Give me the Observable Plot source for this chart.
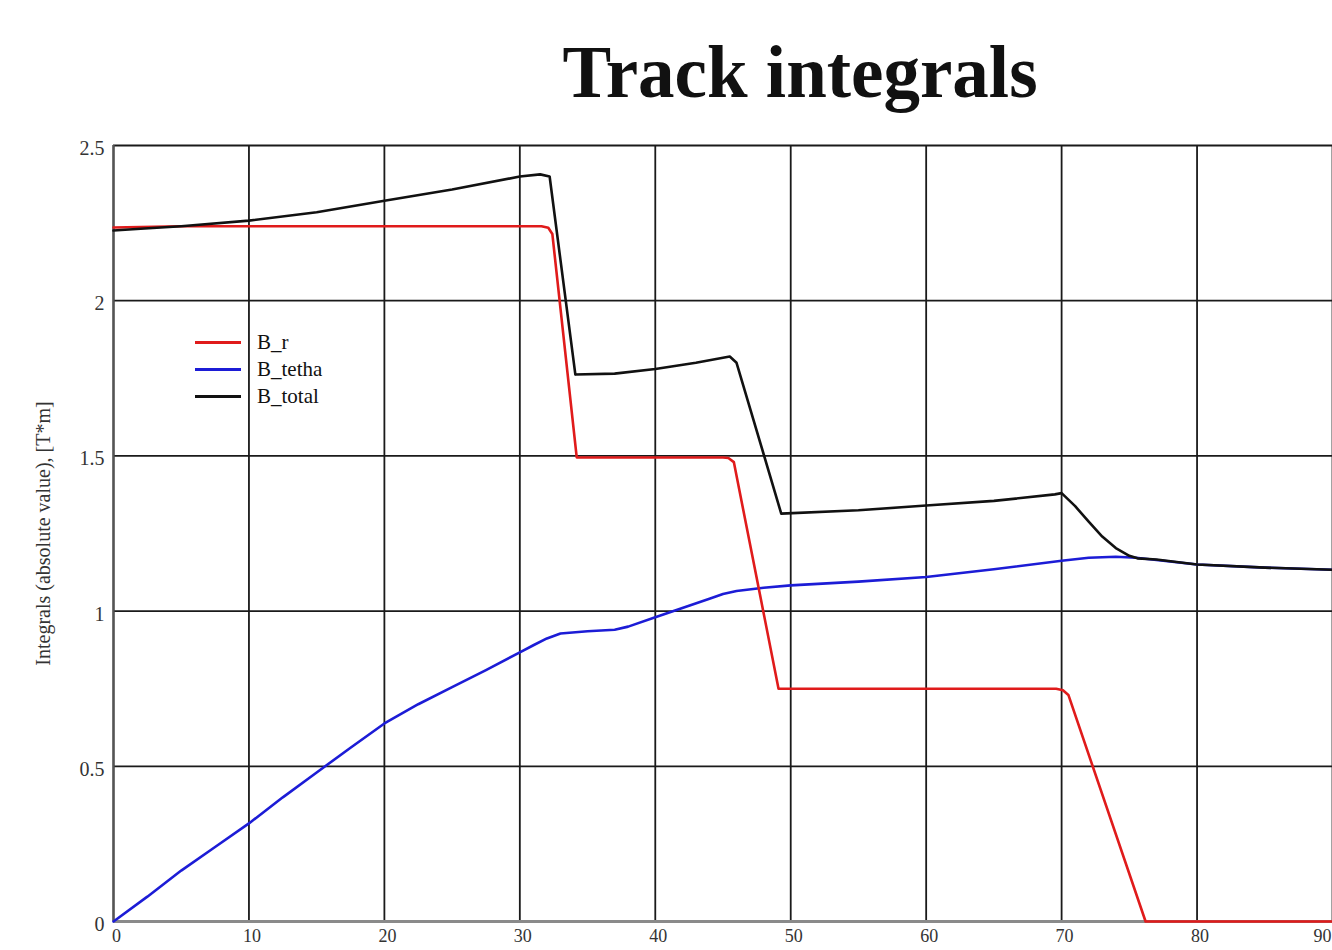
<!DOCTYPE html>
<html><head><meta charset="utf-8">
<script src="https://cdn.jsdelivr.net/npm/d3@7"></script>
<script src="https://cdn.jsdelivr.net/npm/@observablehq/plot@0.6"></script>
<style>
html,body{margin:0;padding:0;background:#fff;overflow:hidden}
#wrap{position:relative;width:1332px;height:950px;overflow:hidden}
#title{position:absolute;left:800px;top:37px;transform:translateX(-50%);font:bold 73px "Liberation Serif",serif;line-height:72px;white-space:nowrap;color:#111}
#chart{position:absolute;left:0;top:120px}
#legend{position:absolute;left:195px;top:329px;font:21px "Liberation Serif",serif;color:#111}
.row{display:flex;align-items:center;height:27px}
.sw{width:46px;height:3px;margin-right:16px}
</style></head>
<body><div id="wrap"><div id="title">Track integrals</div><div id="chart"></div><div id="legend"></div></div>
<script>
// ---- data ----
const seriesNames = ["B_r", "B_tetha", "B_total"];
const seriesColors = ["#e01b1b", "#1c1cd6", "#111111"];

const brX = [0, 5, 10, 20, 30, 31.6, 32.1, 32.4, 34.2, 40, 45, 45.4, 45.8, 49.1, 55, 60, 69.6, 70.1, 70.5, 76.2, 80, 90];
const brY = [2.236, 2.24, 2.24, 2.24, 2.24, 2.24, 2.235, 2.215, 1.495, 1.495, 1.495, 1.493, 1.48, 0.75, 0.75, 0.75, 0.75, 0.745, 0.73, 0, 0, 0];

const btX = [0, 2.5, 5, 7.5, 10, 12.5, 15, 17.5, 20, 22.5, 25, 27.5, 30, 31, 32, 33, 35, 37, 38, 40, 42, 44, 45, 46, 48, 50, 55, 60, 65, 70, 72, 74, 75.5, 80, 85, 90];
const btY = [0, 0.08, 0.164, 0.24, 0.316, 0.4, 0.48, 0.56, 0.638, 0.7, 0.755, 0.81, 0.867, 0.89, 0.912, 0.928, 0.935, 0.94, 0.95, 0.98, 1.01, 1.04, 1.055, 1.065, 1.075, 1.083, 1.095, 1.11, 1.135, 1.162, 1.172, 1.175, 1.172, 1.15, 1.14, 1.133];

const bsX = [0, 2, 5, 10, 15, 20, 25, 30, 31.5, 32.2, 34.1, 37, 40, 43, 45, 45.5, 46, 49.3, 55, 60, 65, 69.5, 70, 71, 72, 73, 74, 75, 75.6, 77, 80, 85, 90];
const bsY = [2.226, 2.232, 2.24, 2.258, 2.285, 2.322, 2.358, 2.4, 2.407, 2.4, 1.762, 1.765, 1.78, 1.8, 1.816, 1.82, 1.8, 1.314, 1.325, 1.34, 1.355, 1.376, 1.38, 1.338, 1.288, 1.24, 1.203, 1.178, 1.17, 1.166, 1.15, 1.14, 1.133];

const xTicks = [0, 10, 20, 30, 40, 50, 60, 70, 80, 90];
const yTicks = [0, 0.5, 1, 1.5, 2, 2.5];
const yTickLabels = ["0", "0.5", "1", "1.5", "2", "2.5"];
const yLabel = "Integrals (absolute value), [T*m]";

// ---- build table ----
const toRows = (name, xs, ys) => xs.map((x, i) => ({series: name, x, y: ys[i]}));
const rowsR = toRows(seriesNames[0], brX, brY);
const rowsT = toRows(seriesNames[1], btX, btY);
const rowsS = toRows(seriesNames[2], bsX, bsY);
const xTicksInner = xTicks.slice(0, -1);
const xTickLast = xTicks.slice(-1);

const chart = Plot.plot({
  width: 1332, height: 830,
  marginTop: 25, marginBottom: 29, marginLeft: 113, marginRight: 0,
  style: {fontFamily: "'Liberation Serif', serif", fontSize: "19px", color: "#333", background: "transparent", overflow: "visible"},
  x: {domain: [0, 90]},
  y: {domain: [0, 2.5]},
  marks: [
    Plot.gridX(xTicks, {stroke: "#1a1a1a", strokeOpacity: 1, strokeWidth: 1.8}),
    Plot.gridY(yTicks, {stroke: "#1a1a1a", strokeOpacity: 1, strokeWidth: 1.8}),
    Plot.ruleX([0], {stroke: "#555", strokeWidth: 2.2}),
    Plot.ruleY([0], {stroke: "#8a8a8a", strokeWidth: 3}),
    Plot.line(rowsT, {x: "x", y: "y", stroke: seriesColors[1], strokeWidth: 2.6}),
    Plot.line(rowsR, {x: "x", y: "y", stroke: seriesColors[0], strokeWidth: 2.6}),
    Plot.line(rowsS, {x: "x", y: "y", stroke: seriesColors[2], strokeWidth: 2.6}),
    Plot.axisX(xTicksInner, {tickSize: 0, tickPadding: 8, dx: 3, label: null, fill: "#333", fontSize: 18}),
    Plot.axisX(xTickLast, {tickSize: 0, tickPadding: 8, dx: -1, textAnchor: "end", label: null, fill: "#333", fontSize: 18}),
    Plot.axisY(yTicks, {tickSize: 0, tickPadding: 9, dy: 3, fill: "#333", fontSize: 20,
      tickFormat: (d) => yTickLabels[yTicks.indexOf(d)],
      label: yLabel, labelAnchor: "center", labelArrow: "none", labelOffset: 78})
  ]
});
document.getElementById("chart").appendChild(chart);

// ---- legend ----
const leg = document.getElementById("legend");
seriesNames.forEach((n, i) => {
  const r = document.createElement("div"); r.className = "row";
  const s = document.createElement("div"); s.className = "sw"; s.style.background = seriesColors[i];
  const t = document.createElement("span"); t.textContent = n;
  r.appendChild(s); r.appendChild(t); leg.appendChild(r);
});
</script></body></html>
